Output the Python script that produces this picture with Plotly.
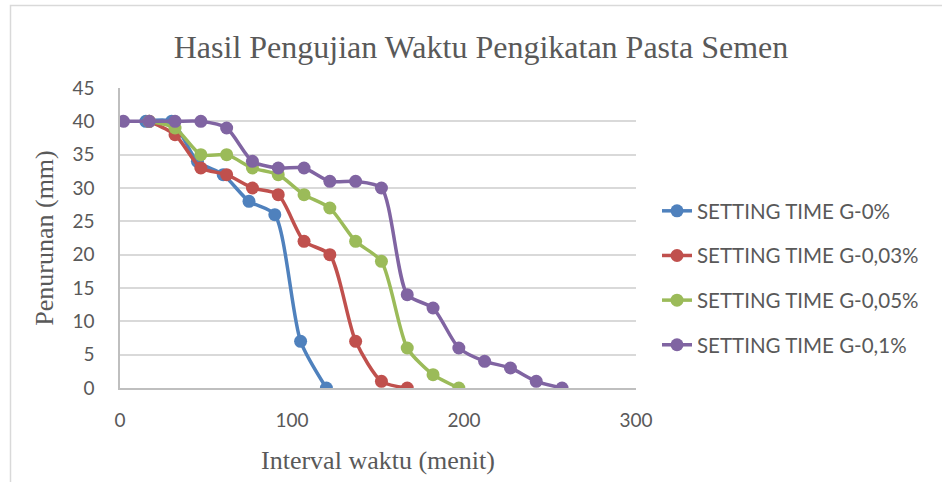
import plotly.graph_objects as go

# Data
x_g0 = [15, 30, 45, 60, 75, 90, 105, 120]
y_g0 = [40, 40, 34, 32, 28, 26, 7, 0]

x_g003 = [17, 32, 47, 62, 77, 92, 107, 122, 137, 152, 167]
y_g003 = [40, 38, 33, 32, 30, 29, 22, 20, 7, 1, 0]

x_g005 = [17, 32, 47, 62, 77, 92, 107, 122, 137, 152, 167, 182, 197]
y_g005 = [40, 39, 35, 35, 33, 32, 29, 27, 22, 19, 6, 2, 0]

x_g01 = [2, 17, 32, 47, 62, 77, 92, 107, 122, 137, 152, 167, 182, 197, 212, 227, 242, 257]
y_g01 = [40, 40, 40, 40, 39, 34, 33, 33, 31, 31, 30, 14, 12, 6, 4, 3, 1, 0]

series_names = ["SETTING TIME G-0%", "SETTING TIME G-0,03%",
                "SETTING TIME G-0,05%", "SETTING TIME G-0,1%"]
series_colors = ["#4F81BD", "#C0504D", "#9BBB59", "#8064A2"]
xs = [x_g0, x_g003, x_g005, x_g01]
ys = [y_g0, y_g003, y_g005, y_g01]

title_text = "Hasil Pengujian Waktu Pengikatan Pasta Semen"
x_title = "Interval waktu (menit)"
y_title = "Penurunan (mm)"

fig = go.Figure()
for i, (xv, yv) in enumerate(zip(xs, ys)):
    fig.add_trace(go.Scatter(
        x=xv, y=yv, mode="lines+markers", name=series_names[i],
        legendgroup=str(i),
        line=dict(color=series_colors[i], width=3.5, shape="spline", smoothing=0.7),
        marker=dict(color=series_colors[i], size=13),
    ))

W, H = 942, 482
L, R, T, B = 120, 306, 88, 94
pw, ph = W - L - R, H - T - B

sans = "Lato, Open Sans, sans-serif"
tick_font = dict(family=sans, size=19, color="#595959")
serif = "Liberation Serif, Times New Roman, serif"

fig.update_layout(
    width=W, height=H,
    margin=dict(l=L, r=R, t=T, b=B, autoexpand=False),
    paper_bgcolor="white", plot_bgcolor="white",
    title=dict(text=title_text, x=481 / W, xanchor="center",
               y=1 - 47 / H, yanchor="middle",
               font=dict(family=serif, size=32, color="#595959")),
    xaxis=dict(range=[0, 300], tickvals=[0, 100, 200, 300], showgrid=False,
               zeroline=False, showline=True, linecolor="#BFBFBF", linewidth=1.5,
               ticks="", tickfont=tick_font, ticklabelstandoff=14,
               title=dict(text=x_title, font=dict(family=serif, size=26, color="#595959"),
                          standoff=21)),
    yaxis=dict(range=[0, 45], dtick=5, showgrid=True, gridcolor="#D9D9D9", gridwidth=1.5,
               zeroline=False, showline=True, linecolor="#BFBFBF", linewidth=1.5,
               ticks="", tickfont=tick_font, ticklabelstandoff=20,
               title=dict(text=y_title, font=dict(family=serif, size=26, color="#595959"),
                          standoff=11)),
    legend=dict(x=(657 - L) / pw, xanchor="left", y=(388 - 191) / ph, yanchor="top",
                font=dict(family=sans, size=20.5, color="#595959"),
                tracegroupgap=15, bgcolor="rgba(0,0,0,0)"),
    showlegend=True,
    shapes=[dict(type="rect", xref="paper", yref="paper",
                 x0=(10.5 - L) / pw, x1=(960 - L) / pw,
                 y0=(388 - 500) / ph, y1=(388 - 5.5) / ph,
                 line=dict(color="#D9D9D9", width=1.5), fillcolor="rgba(0,0,0,0)",
                 layer="below")],
)

fig.write_html("out.html", post_script="document.body.style.margin='0';",
               config={"displayModeBar": False})
